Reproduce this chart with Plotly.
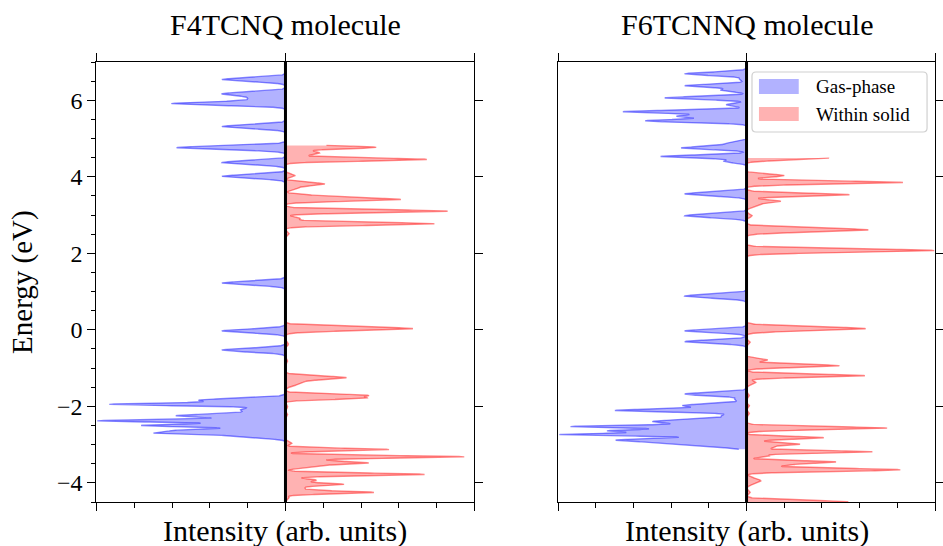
import numpy as np
import plotly.graph_objects as go

# ---------------------------------------------------------------------------
# Spectral levels: energy (eV), peak intensity (arb. units), broadening (eV)
# ---------------------------------------------------------------------------
f4_gas_energy = [6.54, 6.17, 6.04, 5.91, 5.31, 4.76, 4.37, 4.01, 1.22, -0.03, -0.53,
                 -1.84, -1.95, -2.09, -2.25, -2.38, -2.50, -2.63, -2.71, -2.80]
f4_gas_height = [1.68, 1.68, 1.00, 3.01, 1.68, 2.88, 1.68, 1.68, 1.68, 1.68, 1.68,
                 2.30, 4.66, 1.19, 2.90, 4.98, 3.82, 2.99, 3.43, 1.10]
f4_gas_width = [.05, .05, .06, .045, .05, .05, .05, .05, .05, .05, .05,
                .05, .034, .07, .05, .034, .04, .04, .034, .04]
f4_gas_window = [-2.92, 6.76]

f4_solid_energy = [4.77, 4.62, 4.45, 4.03, 3.81, 3.69, 3.48, 3.40, 3.10, 2.91,
                   2.77, 2.50, 0.03, -0.38, -0.83, -1.25, -1.38, -1.71, -1.79, -2.02,
                   -2.23, -2.97, -3.13, -3.23, -3.32, -3.43, -3.49, -3.58, -3.78, -3.93,
                   -4.04, -4.14, -4.25, -4.40]
f4_solid_height = [2.40, 0.90, 3.74, 0.25, 1.04, 0.33, 1.40, 3.03, 4.29, 0.39,
                   3.94, 0.10, 3.37, 0.08, 0.06, 1.61, 0.45, 2.17, 2.12, 0.06,
                   0.06, 0.17, 2.74, 0.17, 4.73, 1.38, 2.17, 0.74, 3.68, 0.82,
                   1.55, 0.52, 2.34, 0.10]
f4_solid_width = [.04, .06, .04, .04, .045, .04, .045, .04, .04, .04,
                  .04, .04, .05, .04, .04, .045, .07, .035, .035, .04,
                  .04, .034, .034, .034, .034, .04, .034, .04, .036, .04,
                  .034, .04, .036, .04]
f4_solid_window = [-4.55, 4.82]

f6_gas_energy = [6.69, 6.54, 6.38, 6.26, 6.06, 5.88, 5.70, 5.58, 5.46, 4.86,
                 4.75, 4.53, 4.40, 3.55, 2.98, 0.88, -0.03, -0.31, -1.68, -1.82,
                 -1.98, -2.11, -2.24, -2.40, -2.53, -2.64, -2.74, -2.88, -3.00]
f6_gas_height = [1.64, 0.19, 1.64, 0.68, 2.17, 0.54, 3.28, 1.86, 2.69, 0.60,
                 1.73, 2.28, 0.60, 1.64, 1.64, 1.64, 1.64, 1.64, 1.64, 0.32,
                 1.70, 3.49, 0.66, 2.50, 4.67, 3.70, 4.96, 3.45, 1.70]
f6_gas_width = [.045, .04, .04, .04, .04, .04, .04, .04, .04, .05,
                .04, .04, .04, .05, .05, .05, .045, .045, .045, .04,
                .05, .04, .04, .06, .034, .04, .034, .05, .06]
f6_gas_window = [-3.12, 6.88]

f6_solid_energy = [4.50, 4.45, 4.03, 3.85, 3.53, 3.46, 3.36, 3.25, 2.98, 2.61,
                   2.07, 0.03, -0.33, -0.79, -0.94, -1.20, -1.38, -1.73, -1.99, -2.20,
                   -2.57, -2.82, -2.90, -2.99, -3.08, -3.19, -3.30, -3.45, -3.53, -3.66,
                   -3.95, -4.26, -4.50]
f6_solid_height = [2.10, 1.58, 1.00, 4.15, 2.73, 0.56, 0.91, 0.30, 0.15, 3.23,
                   4.98, 3.16, 0.10, 0.56, 2.46, 3.14, 0.25, 0.08, 0.08, 0.08,
                   3.73, 2.05, 0.51, 1.42, 0.70, 3.34, 0.60, 2.36, 1.17, 4.08,
                   0.38, 0.10, 2.70]
f6_solid_width = [.034, .034, .04, .04, .04, .04, .04, .05, .04, .05,
                  .045, .05, .04, .04, .04, .04, .05, .04, .04, .04,
                  .04, .034, .035, .034, .035, .034, .035, .034, .04, .04,
                  .07, .04, .045]
f6_solid_window = [-4.6, 4.49]

panel_titles = ["F4TCNQ molecule", "F6TCNNQ molecule"]
series_names = ["Gas-phase", "Within solid"]
energy_ticks = [-4, -2, 0, 2, 4, 6]

E_RANGE = [-4.5, 7.0]
I_RANGE = [-5.0, 5.0]

FONT = "'Liberation Serif', 'DejaVu Serif', serif"
BLUE_FILL, BLUE_LINE = "rgba(0,0,255,0.30)", "rgba(0,0,255,0.45)"
RED_FILL, RED_LINE = "rgba(255,0,0,0.30)", "rgba(255,0,0,0.45)"


def broadened(energy, height, width, window, step=0.002):
    """Gaussian-broadened spectrum whose maxima reach the given heights."""
    c = np.asarray(energy, float)
    h = np.asarray(height, float)
    w = np.asarray(width, float)

    def kern(e):
        e = np.asarray(e, float)[:, None]
        return np.exp(-0.5 * ((e - c[None, :]) / w) ** 2)

    m = kern(c)
    amp = h.copy()
    for _ in range(800):
        amp *= h / (m @ amp)
    lo, hi = window
    e = np.arange(lo, hi, step)
    e = np.union1d(np.append(e, hi), c[(c >= lo) & (c <= hi)])
    return e, kern(e) @ amp


# panel domains in paper coordinates
X_DOM = [[97 / 943, 477 / 943], [561 / 943, 940 / 943]]
Y_DOM = [1 - 502 / 546, 1 - 62 / 546]

fig = go.Figure()

panels = [
    (f4_gas_energy, f4_gas_height, f4_gas_width, f4_gas_window,
     f4_solid_energy, f4_solid_height, f4_solid_width, f4_solid_window),
    (f6_gas_energy, f6_gas_height, f6_gas_width, f6_gas_window,
     f6_solid_energy, f6_solid_height, f6_solid_width, f6_solid_window),
]

for k, (ge, gh, gw, gwin, se, sh, sw, swin) in enumerate(panels):
    xa = "x" if k == 0 else "x2"
    ya = "y" if k == 0 else "y2"
    e_g, i_g = broadened(ge, gh, gw, gwin)
    e_s, i_s = broadened(se, sh, sw, swin)
    fig.add_trace(go.Scatter(
        x=-i_g, y=e_g, mode="lines", fill="tozerox", fillcolor=BLUE_FILL,
        line=dict(color=BLUE_LINE, width=1.4), name=series_names[0],
        showlegend=False, xaxis=xa, yaxis=ya, hoverinfo="skip"))
    fig.add_trace(go.Scatter(
        x=i_s, y=e_s, mode="lines", fill="tozerox", fillcolor=RED_FILL,
        line=dict(color=RED_LINE, width=1.4), name=series_names[1],
        showlegend=False, xaxis=xa, yaxis=ya, hoverinfo="skip"))

# empty traces so the secondary tick axes (top / right) get drawn
for xa, ya in (("x3", "y"), ("x", "y3"), ("x4", "y2")):
    fig.add_trace(go.Scatter(x=[], y=[], xaxis=xa, yaxis=ya, showlegend=False,
                             hoverinfo="skip"))

common_x = dict(range=I_RANGE, showgrid=False, zeroline=False, showticklabels=False,
                tick0=0, dtick=5, ticks="outside", ticklen=8, tickwidth=1.3,
                tickcolor="black", autorange=False)
common_y = dict(range=E_RANGE, showgrid=False, zeroline=False,
                tickvals=energy_ticks, ticks="outside", ticklen=8, tickwidth=1.3,
                tickcolor="black", autorange=False)
axis_line = dict(showline=True, linecolor="black", linewidth=1.3, mirror=True)
minor_x = dict(dtick=1, tick0=0, ticks="outside", ticklen=4.5, tickwidth=1.1,
               tickcolor="black", showgrid=False)

fig.update_layout(
    width=943, height=546,
    margin=dict(l=0, r=0, t=0, b=0),
    paper_bgcolor="white", plot_bgcolor="white",
    font=dict(family=FONT, color="black"),
    showlegend=False,
    # left panel
    xaxis=dict(domain=X_DOM[0], anchor="y", minor=minor_x, **common_x, **axis_line),
    yaxis=dict(domain=Y_DOM, anchor="x", side="left", showticklabels=True,
               tickfont=dict(family=FONT, size=24, color="black"),
               minor=dict(dtick=0.5, tick0=0, ticks="outside", ticklen=4.5,
                          tickwidth=1.1, tickcolor="black", showgrid=False),
               **common_y, **axis_line),
    xaxis3=dict(overlaying="x", anchor="y", side="top", **common_x),
    yaxis3=dict(overlaying="y", anchor="x", side="right", showticklabels=False,
                **common_y),
    # right panel
    xaxis2=dict(domain=X_DOM[1], anchor="y2", minor=minor_x, **common_x, **axis_line),
    yaxis2=dict(domain=Y_DOM, anchor="x2", side="right", showticklabels=False,
                **common_y, **axis_line),
    xaxis4=dict(overlaying="x2", anchor="y2", side="top", **common_x),
)

# zero-intensity divider in each panel
for xa, ya in (("x", "y"), ("x2", "y2")):
    fig.add_shape(type="line", xref=xa, yref=f"{ya} domain", x0=0, x1=0, y0=0, y1=1,
                  line=dict(color="black", width=3), layer="above")

# titles and axis labels
for k in range(2):
    xc = (X_DOM[k][0] + X_DOM[k][1]) / 2
    fig.add_annotation(text=panel_titles[k], xref="paper", yref="paper",
                       x=xc, y=1 - 25 / 546, showarrow=False,
                       xanchor="center", yanchor="middle",
                       font=dict(family=FONT, size=30, color="black"))
    fig.add_annotation(text="Intensity (arb. units)", xref="paper", yref="paper",
                       x=xc, y=1 - 531 / 546, showarrow=False,
                       xanchor="center", yanchor="middle",
                       font=dict(family=FONT, size=30, color="black"))
fig.add_annotation(text="Energy (eV)", xref="paper", yref="paper",
                   x=23 / 943, y=(Y_DOM[0] + Y_DOM[1]) / 2, textangle=-90,
                   showarrow=False, xanchor="center", yanchor="middle",
                   font=dict(family=FONT, size=29, color="black"))


# legend box in the right panel
def px(x):
    return x / 943


def py(y):
    return 1 - y / 546


bx0, bx1, by0, by1, r = 756, 932, 72, 132, 4
box_path = (
    f"M {px(bx0 + r)},{py(by0)} L {px(bx1 - r)},{py(by0)} "
    f"Q {px(bx1)},{py(by0)} {px(bx1)},{py(by0 + r)} "
    f"L {px(bx1)},{py(by1 - r)} Q {px(bx1)},{py(by1)} {px(bx1 - r)},{py(by1)} "
    f"L {px(bx0 + r)},{py(by1)} Q {px(bx0)},{py(by1)} {px(bx0)},{py(by1 - r)} "
    f"L {px(bx0)},{py(by0 + r)} Q {px(bx0)},{py(by0)} {px(bx0 + r)},{py(by0)} Z"
)
fig.add_shape(type="path", xref="paper", yref="paper", path=box_path,
              fillcolor="rgba(255,255,255,0.8)", line=dict(color="#d0d0d0", width=1.2),
              layer="above")
for (y0, y1), fill, label in (((79, 94), BLUE_FILL, series_names[0]),
                              ((107, 121), RED_FILL, series_names[1])):
    fig.add_shape(type="rect", xref="paper", yref="paper",
                  x0=px(763), x1=px(803), y0=py(y1), y1=py(y0),
                  fillcolor=fill, line=dict(width=0), layer="above")
    fig.add_annotation(text=label, xref="paper", yref="paper",
                       x=px(818), y=py((y0 + y1) / 2), showarrow=False,
                       xanchor="left", yanchor="middle",
                       font=dict(family=FONT, size=19, color="black"))

fig.write_html("out.html")
